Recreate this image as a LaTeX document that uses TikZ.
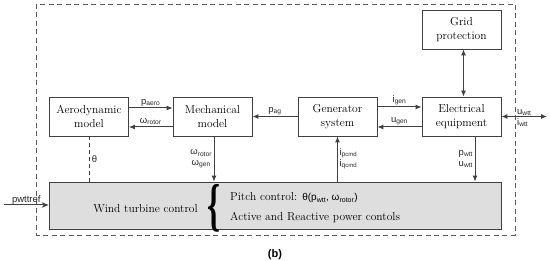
\documentclass[tikz,border=0pt]{standalone}
\usepackage{fontspec}
\usetikzlibrary{arrows.meta,calc}
\newfontfamily\lab{Liberation Sans}
\newfontfamily\brfont{Liberation Serif}
\definecolor{lc}{HTML}{404040}
\definecolor{cfill}{HTML}{DEDEDE}
\begin{document}
\begin{tikzpicture}[x=1pt,y=-1pt,
  box/.style={draw=lc, line width=0.8pt, fill=white, minimum width=79pt, minimum height=39pt, align=center, font=\fontsize{11.5}{13.5}\selectfont, inner sep=1pt},
  sig/.style={draw=lc, line width=1pt, -{Latex[length=6pt,width=5pt]}},
  bisig/.style={draw=lc, line width=1pt, {Latex[length=6pt,width=5pt]}-{Latex[length=6pt,width=5pt]}},
  lbl/.style={font=\lab\fontsize{9.5}{11}\selectfont, inner sep=1.5pt, text=black!85},
  outerdash/.style={draw=black!65, line width=0.9pt, dash pattern=on 5pt off 3.5pt},
  serif/.style={font=\fontsize{11.5}{13.5}\selectfont, inner sep=0pt},
]
\useasboundingbox (0,0) rectangle (550,261);
\draw[outerdash] (36,4) rectangle (515,235);

\node[box] (aero) at (89,116.5) {Aerodynamic\\model};
\node[box] (mech) at (212.5,116.5) {Mechanical\\model};
\node[box] (gen)  at (337.5,116.5) {Generator\\system};
\node[box] (elec) at (461.5,116.5) {Electrical\\equipment};
\node[box] (grid) at (461.5,29.5) {Grid\\protection};
\node[draw=lc, line width=0.8pt, fill=cfill, minimum width=452pt, minimum height=47pt, inner sep=0pt] (ctrl) at (275,205.5) {};

\coordinate (ext) at (547,116.5);
\coordinate (pin) at (4,205);

% horizontal signals
\draw[sig] ([yshift=8.5pt]aero.east) -- node[lbl, above] {p\textsubscript{aero}} ([yshift=8.5pt]mech.west);
\draw[sig] ([yshift=-10.5pt]mech.west) -- node[lbl, above] {ω\textsubscript{rotor}} ([yshift=-10.5pt]aero.east);
\draw[sig] (gen.west) -- node[lbl, above] {p\textsubscript{ag}} (mech.east);
\draw[sig] ([yshift=9.5pt]gen.east) -- node[lbl, above] {i\textsubscript{gen}} ([yshift=9.5pt]elec.west);
\draw[sig] ([yshift=-10.5pt]elec.west) -- node[lbl, above] {u\textsubscript{gen}} ([yshift=-10.5pt]gen.east);
\draw[bisig] ([xshift=2pt]grid.south) -- ([xshift=2pt]elec.north);
\draw[bisig] (elec.east) -- (ext);
\node[lbl, anchor=south west] (uwtt) at (515.5,117) {u\textsubscript{wtt}};
\node[lbl, anchor=north west] (iwtt) at (515.5,117) {i\textsubscript{wtt}};

% vertical signals
\draw[sig] ([xshift=1.5pt]mech.south) -- node[lbl, left, align=center] {ω\textsubscript{rotor}\\ω\textsubscript{gen}} ([xshift=1.5pt]mech.south |- ctrl.north);
\draw[sig] (gen.south |- ctrl.north) -- node[lbl, right, align=left] {i\textsubscript{p{\fontsize{6}{6}\selectfont cmd}}\\i\textsubscript{q{\fontsize{6}{6}\selectfont cmd}}} (gen.south);
\draw[sig] ([xshift=13.5pt]elec.south) -- node[lbl, left, align=center] {p\textsubscript{wtt}\\u\textsubscript{wtt}} ([xshift=13.5pt]elec.south |- ctrl.north);
\draw[draw=lc, line width=0.9pt, dash pattern=on 4pt off 3pt] (aero.south) -- node[lbl, right, xshift=1pt] {θ} (aero.south |- ctrl.north);

\draw[draw=lc, line width=1pt, -{Stealth[length=7pt,width=5.5pt]}] (pin) -- node[lbl, above, inner sep=0.5pt, font=\lab\fontsize{9.5}{11}\selectfont] {pwttref} (ctrl.west |- pin);

% control text
\node[serif] (wtc) at (145.5,208.5) {Wind turbine control};
\node[inner sep=0pt] (brace) at (214,208.5) {\resizebox{13pt}{40pt}{\brfont\bfseries\{}};
\node[serif, anchor=west] (pitch) at (230,198) {Pitch control: {\lab\fontsize{10}{12}\selectfont θ(p\textsubscript{wtt}, ω\textsubscript{rotor})}};
\node[serif, anchor=west] (act) at (230,217.5) {Active and Reactive power contols};

\node[font=\lab\bfseries\fontsize{11}{13}\selectfont] (cap) at (275,254.5) {(b)};
\end{tikzpicture}
\end{document}
